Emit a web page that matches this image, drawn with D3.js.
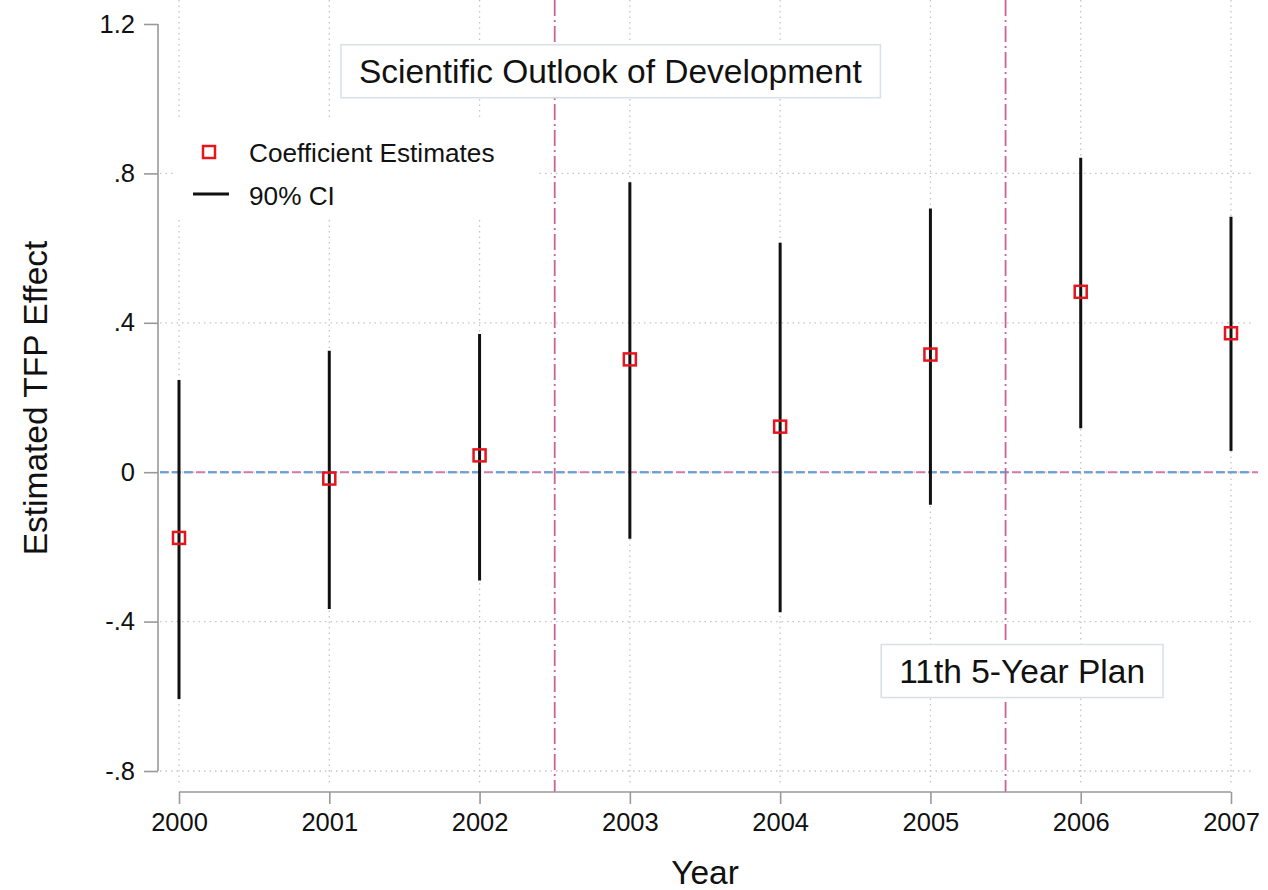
<!DOCTYPE html>
<html>
<head>
<meta charset="utf-8">
<script src="https://cdn.jsdelivr.net/npm/d3@7/dist/d3.min.js"></script>
<style>
  html, body { margin: 0; padding: 0; background: #fff; }
  svg { display: block; font-family: "Liberation Sans", Arial, Helvetica, sans-serif; }
</style>
</head>
<body>
<svg id="chart" width="1268" height="890"></svg>
<script>
// ---- data ----
const years = [2000, 2001, 2002, 2003, 2004, 2005, 2006, 2007];
const coef  = [-0.176, -0.017, 0.045, 0.302, 0.122, 0.315, 0.483, 0.372];
const ciLow = [-0.607, -0.366, -0.290, -0.178, -0.375, -0.087, 0.118, 0.057];
const ciHigh = [0.247, 0.325, 0.370, 0.776, 0.614, 0.706, 0.842, 0.684];
const yTicks = [-0.8, -0.4, 0, 0.4, 0.8, 1.2];
const yTickLabels = ["-.8", "-.4", "0", ".4", ".8", "1.2"];
const eventLines = [2002.5, 2005.5];
const annotations = [
  { text: "Scientific Outlook of Development", x: 2002.87, y: 1.075 },
  { text: "11th 5-Year Plan", x: 2005.61, y: -0.531 }
];
const legendItems = ["Coefficient Estimates", "90% CI"];
const xTitle = "Year";
const yTitle = "Estimated TFP Effect";

// ---- layout ----
const svg = d3.select("#chart");
const x = d3.scaleLinear().domain([2000, 2007]).range([179, 1231]);
const y = d3.scaleLinear().domain([-0.8, 1.2]).range([771, 24]);
const plotLeft = 160, plotRight = 1254, plotTop = 0, plotBottom = 784;
const axisX = 158, axisY = 792;
const red = "#e5141d";

// gridlines
const grid = svg.append("g");
grid.selectAll("line.hg").data(yTicks.filter(v => v < 1.2)).enter().append("line")
  .attr("x1", plotLeft).attr("x2", plotRight)
  .attr("y1", d => y(d)).attr("y2", d => y(d))
  .attr("stroke", "#c4c4c4").attr("stroke-width", 1.3).attr("stroke-dasharray", "1.5,4");
grid.selectAll("line.vg").data(years).enter().append("line")
  .attr("x1", d => x(d)).attr("x2", d => x(d))
  .attr("y1", plotTop).attr("y2", plotBottom)
  .attr("stroke", "#c4c4c4").attr("stroke-width", 1.3).attr("stroke-dasharray", "1.5,4");

// zero line (overlapping pink & blue dashed)
svg.append("line").attr("x1", plotLeft).attr("x2", 1258)
  .attr("y1", y(0)).attr("y2", y(0))
  .attr("stroke", "#d47aa8").attr("stroke-width", 2).attr("stroke-dasharray", "9,3");
svg.append("line").attr("x1", plotLeft).attr("x2", 1258)
  .attr("y1", y(0)).attr("y2", y(0))
  .attr("stroke", "#5ea6da").attr("stroke-width", 2).attr("stroke-dasharray", "8,4,8,4,8,16");

// event lines
svg.selectAll("line.ev").data(eventLines).enter().append("line")
  .attr("x1", d => x(d)).attr("x2", d => x(d))
  .attr("y1", plotTop).attr("y2", axisY)
  .attr("stroke", "#cc6396").attr("stroke-width", 1.8).attr("stroke-dasharray", "16,4,2,4");

// CI lines
svg.selectAll("line.ci").data(years).enter().append("line")
  .attr("x1", d => x(d)).attr("x2", d => x(d))
  .attr("y1", (d, i) => y(ciHigh[i])).attr("y2", (d, i) => y(ciLow[i]))
  .attr("stroke", "#111").attr("stroke-width", 3);

// markers
const ms = 12;
svg.selectAll("rect.pt").data(years).enter().append("rect")
  .attr("x", d => x(d) - ms / 2).attr("y", (d, i) => y(coef[i]) - ms / 2)
  .attr("width", ms).attr("height", ms)
  .attr("fill", "none").attr("stroke", red).attr("stroke-width", 2.5);

// legend (white background hides grid)
const lg = svg.append("g");
lg.append("rect").attr("x", 175).attr("y", 117).attr("width", 361).attr("height", 103).attr("fill", "#fff");
lg.append("rect").attr("x", 209 - 6).attr("y", 152 - 6).attr("width", 12).attr("height", 12)
  .attr("fill", "none").attr("stroke", red).attr("stroke-width", 2.5);
lg.append("line").attr("x1", 193).attr("x2", 229).attr("y1", 194).attr("y2", 194)
  .attr("stroke", "#111").attr("stroke-width", 3);
lg.selectAll("text").data(legendItems).enter().append("text")
  .attr("x", 249).attr("y", (d, i) => i === 0 ? 153 : 196)
  .attr("dominant-baseline", "central")
  .attr("font-size", 26.2).attr("fill", "#111").text(d => d);

// annotation boxes
annotations.forEach(a => {
  const g = svg.append("g");
  const t = g.append("text").attr("x", x(a.x)).attr("y", y(a.y) + 1)
    .attr("text-anchor", "middle").attr("dominant-baseline", "central")
    .attr("font-size", 33.5).attr("fill", "#111").text(a.text);
  const bb = t.node().getBBox();
  g.insert("rect", "text")
    .attr("x", bb.x - 18).attr("y", y(a.y) - 26)
    .attr("width", bb.width + 36).attr("height", 53)
    .attr("fill", "#fff").attr("stroke", "#d6e0e6").attr("stroke-width", 1.5);
});

// y axis
const yAxis = d3.axisLeft(y).tickValues(yTicks)
  .tickFormat((d, i) => yTickLabels[i]).tickSize(14).tickPadding(9);
const gy = svg.append("g").attr("transform", `translate(${axisX},0)`).call(yAxis);
gy.select(".domain").attr("stroke", "#999").attr("stroke-width", 1.6).attr("d", `M0,${y(1.2)}V${y(-0.8)}`);
gy.selectAll(".tick line").attr("stroke", "#999").attr("stroke-width", 1.6);
gy.selectAll(".tick text").attr("font-size", 25.5).attr("fill", "#111")
  .attr("font-family", "Liberation Sans, Arial, sans-serif");

// x axis
const xAxis = d3.axisBottom(x).tickValues(years).tickFormat(d3.format("d")).tickSize(12).tickPadding(9);
const gx = svg.append("g").attr("transform", `translate(0,${axisY})`).call(xAxis);
gx.select(".domain").attr("stroke", "#999").attr("stroke-width", 1.6).attr("d", `M${x(2000)},0H${x(2007)}`);
gx.selectAll(".tick line").attr("stroke", "#999").attr("stroke-width", 1.6);
gx.selectAll(".tick text").attr("font-size", 25.5).attr("fill", "#111")
  .attr("font-family", "Liberation Sans, Arial, sans-serif");

// titles
svg.append("text").attr("x", 705).attr("y", 872).attr("text-anchor", "middle")
  .attr("dominant-baseline", "central").attr("font-size", 33.5).attr("fill", "#111").text(xTitle);
svg.append("text").attr("transform", "translate(35,398) rotate(-90)").attr("text-anchor", "middle")
  .attr("dominant-baseline", "central").attr("font-size", 33.5).attr("fill", "#111").text(yTitle);
</script>
</body>
</html>
